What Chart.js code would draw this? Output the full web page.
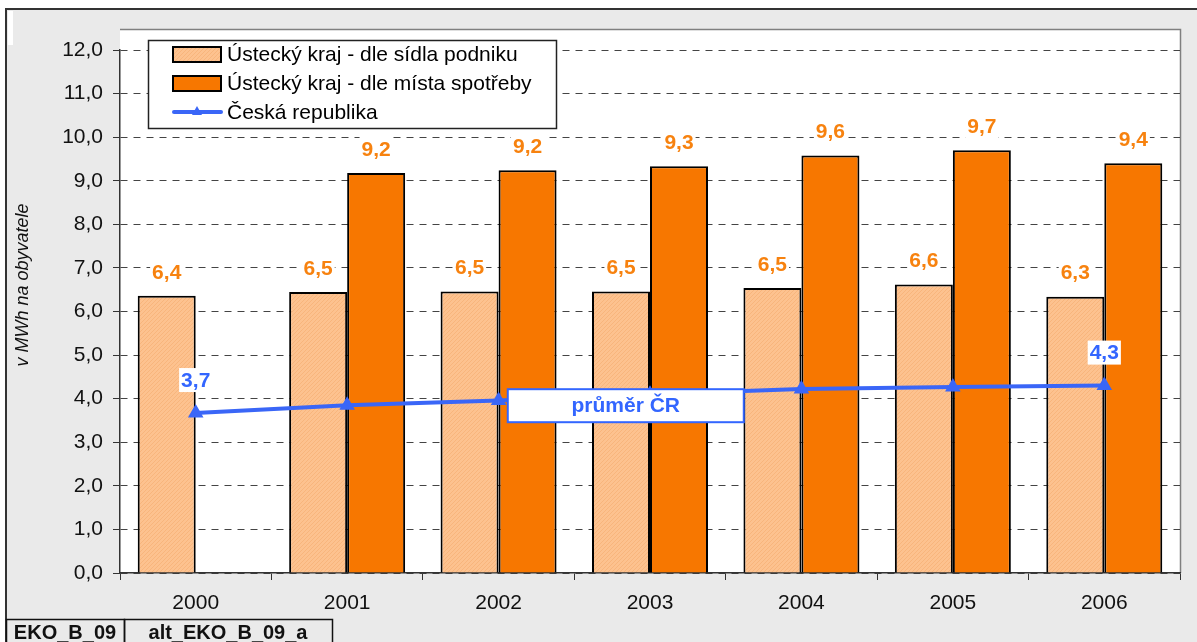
<!DOCTYPE html>
<html>
<head>
<meta charset="utf-8">
<script src="https://cdn.jsdelivr.net/npm/chart.js@4.4.1/dist/chart.umd.min.js"></script>
<style>
  html, body { margin: 0; padding: 0; background: #fff; }
  #wrap { width: 1197px; height: 642px; position: relative; }
</style>
</head>
<body>
<div id="wrap"><canvas id="chart" width="1197" height="642"></canvas></div>
<script>
// data
const years = ["2000", "2001", "2002", "2003", "2004", "2005", "2006"];
const sidloValues = [6.36, 6.45, 6.46, 6.46, 6.54, 6.62, 6.34];
const spotrebaValues = [null, 9.18, 9.24, 9.33, 9.58, 9.70, 9.40];
const crValues = [3.67, 3.85, 3.96, 4.10, 4.22, 4.27, 4.30];
const seriesNames = ["Ústecký kraj - dle sídla podniku", "Ústecký kraj - dle místa spotřeby", "Česká republika"];
const crLabelIdx = [0, 6];
const avgText = "průměr ČR";
const yTitle = "v MWh na obyvatele";
const codeLabels = ["EKO_B_09", "alt_EKO_B_09_a"];

const FONT = "'Liberation Sans', Arial, sans-serif";
const ORANGE = "#f77700";
const LABEL_ORANGE = "#f7820f";
const BLUE = "#3a66f7";
const fmt = v => v.toFixed(1).replace(".", ",");

const canvas = document.getElementById("chart");
const ctx0 = canvas.getContext("2d");

// fine dotted peach fill like the Excel pattern
function peachPattern() {
  const p = document.createElement("canvas");
  p.width = 4; p.height = 4;
  const g = p.getContext("2d");
  g.fillStyle = "#fdc28f"; g.fillRect(0, 0, 4, 4);
  g.fillStyle = "#f8b57c";
  for (let i = 0; i < 4; i++) g.fillRect(i, 3 - i, 1, 1);
  return ctx0.createPattern(p, "repeat");
}
const PEACH = peachPattern();

const frame = {
  id: "frame",
  beforeDraw(chart) {
    const { ctx, chartArea: a } = chart;
    ctx.save();
    ctx.fillStyle = "#fff"; ctx.fillRect(0, 0, 1197, 642);
    ctx.fillStyle = "#eaeaea"; ctx.fillRect(6, 9, 1191, 633);
    ctx.fillStyle = "#fff"; ctx.fillRect(8, 11, 5, 34);
    ctx.strokeStyle = "#333"; ctx.lineWidth = 2;
    ctx.beginPath(); ctx.moveTo(6, 642); ctx.lineTo(6, 9); ctx.lineTo(1197, 9); ctx.stroke();
    // white plot area with grey border
    ctx.fillStyle = "#fff";
    ctx.fillRect(a.left, 29, a.right - a.left, a.bottom - 29);
    ctx.strokeStyle = "#808080"; ctx.lineWidth = 1.5;
    ctx.beginPath(); ctx.moveTo(a.left, 29.5); ctx.lineTo(a.right + 0.5, 29.5); ctx.lineTo(a.right + 0.5, a.bottom); ctx.stroke();
    ctx.restore();
  }
};

function labelBox(ctx, text, x, y, color) {
  const w = ctx.measureText(text).width;
  ctx.fillStyle = "#fff";
  ctx.fillRect(x - w / 2 - 2, y - 12, w + 4, 24);
  ctx.fillStyle = color;
  ctx.fillText(text, x, y + 1);
}

const overlay = {
  id: "overlay",
  afterDatasetsDraw(chart) {
    const { ctx } = chart;
    const xs = chart.scales.x, ys = chart.scales.y;
    ctx.save();
    ctx.font = "bold 21px " + FONT;
    ctx.textAlign = "center"; ctx.textBaseline = "middle";
    [0, 1].forEach(i => {
      chart.getDatasetMeta(i).data.forEach((el, j) => {
        const v = chart.data.datasets[i].data[j];
        if (v == null) return;
        labelBox(ctx, fmt(v), el.x, el.y - 24, LABEL_ORANGE);
      });
    });
    const lineMeta = chart.getDatasetMeta(2);
    crLabelIdx.forEach(j => {
      const el = lineMeta.data[j];
      labelBox(ctx, fmt(crValues[j]), el.x, el.y - 33, "#3366ff");
    });

    // "průměr ČR" text box
    const cx = xs.getPixelForValue(2.84), cy = ys.getPixelForValue(3.85);
    ctx.fillStyle = "#fff"; ctx.strokeStyle = "#3366ff"; ctx.lineWidth = 2;
    ctx.fillRect(cx - 118, cy - 16, 236, 33);
    ctx.strokeRect(cx - 118, cy - 16, 236, 33);
    ctx.font = "bold 21px " + FONT; ctx.fillStyle = "#3366ff";
    ctx.fillText(avgText, cx, cy + 1);

    // legend box
    ctx.fillStyle = "#fff"; ctx.strokeStyle = "#222"; ctx.lineWidth = 1.5;
    ctx.fillRect(148, 40, 408, 88);
    ctx.strokeRect(148.5, 40.5, 408, 88);
    ctx.font = "21px " + FONT; ctx.textAlign = "left";
    const rows = [54, 83, 112];
    chart.data.datasets.forEach((ds, i) => {
      const y = rows[i];
      if (ds.type === "line") {
        ctx.strokeStyle = BLUE; ctx.lineWidth = 4; ctx.lineCap = "round";
        ctx.beginPath(); ctx.moveTo(174, y); ctx.lineTo(221, y); ctx.stroke();
        ctx.fillStyle = BLUE;
        ctx.beginPath(); ctx.moveTo(197, y - 6); ctx.lineTo(202, y + 3); ctx.lineTo(192, y + 3); ctx.closePath(); ctx.fill();
      } else {
        ctx.fillStyle = ds.backgroundColor;
        ctx.fillRect(173, y - 7, 48, 15);
        ctx.strokeStyle = "#000"; ctx.lineWidth = 2;
        ctx.strokeRect(173, y - 7, 48, 15);
      }
      ctx.fillStyle = "#000";
      ctx.fillText(ds.label, 227, y + 1);
    });
    ctx.restore();
  },
  afterDraw(chart) {
    const { ctx } = chart;
    ctx.save();
    ctx.fillStyle = "#111";
    ctx.translate(23, 285); ctx.rotate(-Math.PI / 2);
    ctx.font = "italic 18px " + FONT;
    ctx.textAlign = "center"; ctx.textBaseline = "middle";
    ctx.fillText(yTitle, 0, 0);
    ctx.restore();

    // code boxes at the bottom
    ctx.save();
    ctx.strokeStyle = "#111"; ctx.lineWidth = 1.5;
    ctx.strokeRect(6.5, 619.5, 118, 30);
    ctx.strokeRect(124.5, 619.5, 208, 30);
    ctx.font = "bold 20px " + FONT; ctx.fillStyle = "#111";
    ctx.textAlign = "center"; ctx.textBaseline = "middle";
    ctx.fillText(codeLabels[0], 65, 633);
    ctx.fillText(codeLabels[1], 228, 633);
    ctx.restore();
  }
};

new Chart(canvas, {
  type: "bar",
  data: {
    labels: years,
    datasets: [
      { label: seriesNames[0], data: sidloValues, backgroundColor: PEACH, borderColor: "#000", borderWidth: 2, order: 2 },
      { label: seriesNames[1], data: spotrebaValues, backgroundColor: ORANGE, borderColor: "#000", borderWidth: 2, order: 2 },
      { type: "line", label: seriesNames[2], data: crValues, borderColor: BLUE, backgroundColor: BLUE, borderWidth: 4,
        pointStyle: "triangle", pointRadius: 5, pointBackgroundColor: BLUE, pointBorderColor: BLUE, tension: 0, order: 1 },
    ],
  },
  options: {
    responsive: false, animation: false,
    layout: { padding: { left: 0, right: 17, top: 50, bottom: 0 } },
    plugins: { legend: { display: false }, tooltip: { enabled: false } },
    datasets: { bar: { categoryPercentage: 0.766, barPercentage: 1 } },
    scales: {
      x: {
        grid: { drawOnChartArea: false, tickLength: 7, color: "#333" },
        border: { color: "#333", width: 1.5 },
        ticks: { font: { family: FONT, size: 21 }, color: "#111", padding: 11 },
        afterFit: s => { s.height = 69; },
      },
      y: {
        min: 0, max: 12,
        grid: { color: "#444", tickLength: 7, tickColor: "#333", tickBorderDash: [] },
        border: { color: "#333", width: 1.5, dash: [7, 6] },
        ticks: { stepSize: 1, font: { family: FONT, size: 21 }, color: "#111", padding: 10, callback: v => fmt(v) },
        afterFit: s => { s.width = 120; },
      },
    },
  },
  plugins: [frame, overlay],
});
</script>
</body>
</html>
